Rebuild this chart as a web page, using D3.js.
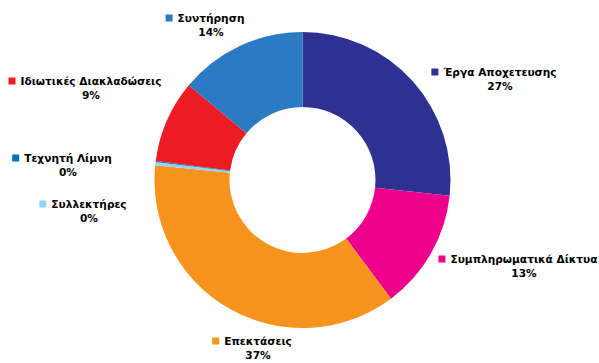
<!DOCTYPE html>
<html><head><meta charset="utf-8">
<script src="https://cdn.jsdelivr.net/npm/d3@7"></script>
<style>body{margin:0;background:#fff}svg{display:block}text{font-family:"DejaVu Sans",Verdana,sans-serif;font-weight:bold;font-size:10.6px;fill:#000}</style>
</head><body><svg id="c" width="599" height="363"></svg>
<script>
const categories = ["Έργα Αποχετευσης","Συμπληρωματικά Δίκτυα","Επεκτάσεις","Συλλεκτήρες","Τεχνητή Λίμνη","Ιδιωτικές Διακλαδώσεις","Συντήρηση"];
const values = [26.7, 13.1, 36.8, 0.35, 0.1, 9.0, 13.95];
const colors = ["#2e3192","#ec008c","#f7941d","#8fd3f5","#0072bc","#ed1c24","#2b7bc4"];
// label anchor (centre of name text, vertical centre of first line) - layout only
const labelAnchors = [[500,72],[524,259],[258,341],[89,204],[68,158],[91,81],[211,18]];

const svg = d3.select("#c");
const cx = 302.5, cy = 180, rOuter = 148, rInner = 73;
const pie = d3.pie().sort(null).value(d => d)(values);
const arc = d3.arc().innerRadius(rInner).outerRadius(rOuter);
const total = d3.sum(values);
const g = svg.append("g").attr("transform", `translate(${cx},${cy})`);
g.selectAll("path").data(pie).join("path")
  .attr("d", arc).attr("fill", (d,i) => colors[i]).attr("stroke","none");

const lab = svg.selectAll("g.lab").data(categories).join("g").attr("class","lab")
  .attr("transform", (d,i) => `translate(${labelAnchors[i][0]},${labelAnchors[i][1]})`);
lab.append("text").attr("text-anchor","middle").attr("y",4).text(d => d);
lab.each(function(d,i){
  const t = d3.select(this).select("text").node();
  const w = t.getComputedTextLength();
  d3.select(this).append("rect").attr("x", -w/2 - 12).attr("y", -3.5).attr("width",7).attr("height",7).attr("fill", colors[i]);
});
lab.append("text").attr("text-anchor","middle").attr("y",18)
  .text((d,i) => Math.round(values[i] / total * 100) + "%");
</script></body></html>
